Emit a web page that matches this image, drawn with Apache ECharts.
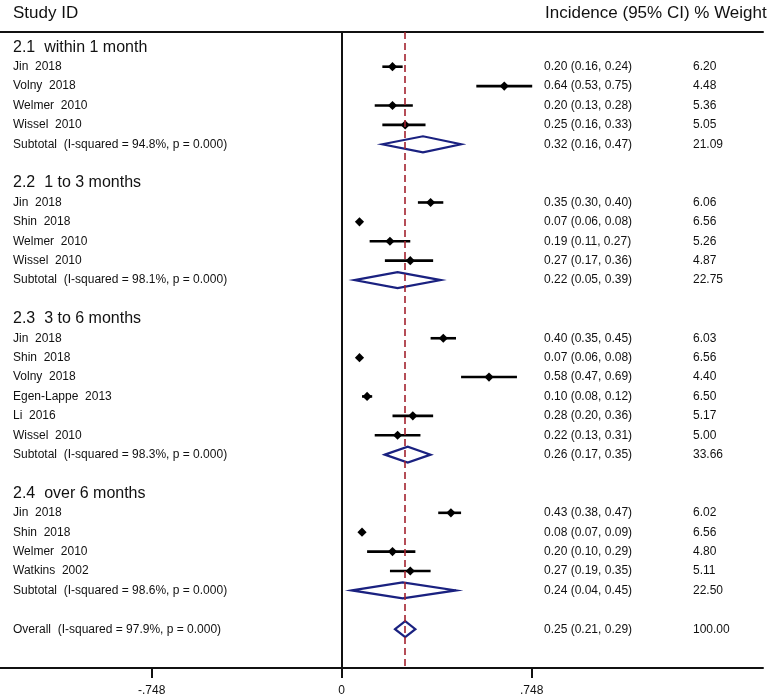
<!DOCTYPE html>
<html>
<head>
<meta charset="utf-8">
<script src="https://cdn.jsdelivr.net/npm/echarts@6/dist/echarts.min.js"></script>
<style>html,body{margin:0;padding:0;background:#fff;}#c{width:767px;height:696px;}</style>
</head>
<body>
<div id="c"></div>
<script>
// ---- data ----
const groupNames = ['2.1  within 1 month', '2.2  1 to 3 months', '2.3  3 to 6 months', '2.4  over 6 months'];
const studyNames = [
  ['Jin  2018', 'Volny  2018', 'Welmer  2010', 'Wissel  2010'],
  ['Jin  2018', 'Shin  2018', 'Welmer  2010', 'Wissel  2010'],
  ['Jin  2018', 'Shin  2018', 'Volny  2018', 'Egen-Lappe  2013', 'Li  2016', 'Wissel  2010'],
  ['Jin  2018', 'Shin  2018', 'Welmer  2010', 'Watkins  2002']
];
const studyEst = [[0.20, 0.64, 0.20, 0.25], [0.35, 0.07, 0.19, 0.27], [0.40, 0.07, 0.58, 0.10, 0.28, 0.22], [0.43, 0.08, 0.20, 0.27]];
const studyLo  = [[0.16, 0.53, 0.13, 0.16], [0.30, 0.06, 0.11, 0.17], [0.35, 0.06, 0.47, 0.08, 0.20, 0.13], [0.38, 0.07, 0.10, 0.19]];
const studyHi  = [[0.24, 0.75, 0.28, 0.33], [0.40, 0.08, 0.27, 0.36], [0.45, 0.08, 0.69, 0.12, 0.36, 0.31], [0.47, 0.09, 0.29, 0.35]];
const studyWeight = [[6.20, 4.48, 5.36, 5.05], [6.06, 6.56, 5.26, 4.87], [6.03, 6.56, 4.40, 6.50, 5.17, 5.00], [6.02, 6.56, 4.80, 5.11]];
const subtotalLabels = [
  'Subtotal  (I-squared = 94.8%, p = 0.000)',
  'Subtotal  (I-squared = 98.1%, p = 0.000)',
  'Subtotal  (I-squared = 98.3%, p = 0.000)',
  'Subtotal  (I-squared = 98.6%, p = 0.000)'
];
const subtotalEst = [0.32, 0.22, 0.26, 0.24];
const subtotalLo  = [0.16, 0.05, 0.17, 0.04];
const subtotalHi  = [0.47, 0.39, 0.35, 0.45];
const subtotalWeight = [21.09, 22.75, 33.66, 22.50];
const overallLabel = 'Overall  (I-squared = 97.9%, p = 0.000)';
const overallEst = 0.25, overallLo = 0.21, overallHi = 0.29, overallWeight = 100.00;
const xTickValues = [-0.748, 0, 0.748];
const xTickLabels = ['-.748', '0', '.748'];

// ---- build rows ----
const rows = [];
let r = 0;
groupNames.forEach((g, gi) => {
  rows.push({ r: r++, kind: 'group', label: g });
  studyNames[gi].forEach((n, si) => {
    rows.push({ r: r++, kind: 'study', label: n, est: studyEst[gi][si], lo: studyLo[gi][si], hi: studyHi[gi][si], w: studyWeight[gi][si] });
  });
  rows.push({ r: r++, kind: 'sub', label: subtotalLabels[gi], est: subtotalEst[gi], lo: subtotalLo[gi], hi: subtotalHi[gi], w: subtotalWeight[gi] });
  r++; // blank row
});
rows.push({ r: r++, kind: 'overall', label: overallLabel, est: overallEst, lo: overallLo, hi: overallHi, w: overallWeight });

const FONT = '"Liberation Sans", Arial, Helvetica, sans-serif';
const TXT = '#111';
const NAVY = '#1a2180';
const PX_PER_UNIT = 254.0;
const ZERO_X = 341.7;
const X_MIN = -ZERO_X / PX_PER_UNIT;
const X_MAX = (763 - ZERO_X) / PX_PER_UNIT;

const studyRows = rows.filter(d => d.kind === 'study');
const pooledRows = rows.filter(d => d.kind === 'sub' || d.kind === 'overall');
const fmt = v => v.toFixed(2);

const chart = echarts.init(document.getElementById('c'), null, { renderer: 'canvas' });
chart.setOption({
  animation: false,
  backgroundColor: '#fff',
  textStyle: { fontFamily: FONT },
  grid: { left: 0, right: 4, top: 32, bottom: 28, containLabel: false, outerBoundsMode: 'none' },
  xAxis: [
    {
      type: 'value', min: X_MIN, max: X_MAX, position: 'bottom',
      axisLine: { show: true, onZero: false, lineStyle: { color: '#111', width: 2 } },
      axisTick: { show: true, customValues: xTickValues, length: 10, lineStyle: { color: '#111', width: 2 } },
      axisLabel: {
        show: true, customValues: xTickValues, margin: 17, fontSize: 12, color: TXT, fontFamily: FONT,
        formatter: v => { const i = xTickValues.findIndex(t => Math.abs(t - v) < 1e-6); return i >= 0 ? xTickLabels[i] : ''; }
      },
      splitLine: { show: false }
    },
    {
      type: 'value', min: X_MIN, max: X_MAX, position: 'top',
      axisLine: { show: true, onZero: false, lineStyle: { color: '#111', width: 2 } },
      axisTick: { show: false }, axisLabel: { show: false }, splitLine: { show: false }
    }
  ],
  yAxis: { type: 'value', inverse: true, min: -0.789, max: 32.0, show: false, splitLine: { show: false } },
  graphic: [
    { type: 'text', x: 13, y: 13, style: { text: 'Study ID', fontSize: 17, fontFamily: FONT, fill: TXT, verticalAlign: 'middle' } },
    { type: 'text', x: 545, y: 13, style: { text: 'Incidence (95% CI) % Weight', fontSize: 17, fontFamily: FONT, fill: TXT, verticalAlign: 'middle' } }
  ],
  series: [
    {
      type: 'custom', name: 'refs', xAxisIndex: 0, data: [[0, 0]], encode: { x: 0, y: 1 },
      renderItem: () => ({ type: 'group', children: [] }),
      markLine: {
        silent: true, symbol: 'none', label: { show: false },
        data: [
          { xAxis: 0, lineStyle: { color: '#111', width: 2, type: 'solid' } },
          { xAxis: overallEst, lineStyle: { color: '#a3222f', width: 1.6, type: [7, 4] } }
        ]
      }
    },
    {
      type: 'custom', name: 'studies', xAxisIndex: 0, clip: false,
      data: studyRows.map(d => [d.r, d.est, d.lo, d.hi]),
      encode: { y: 0, x: [1, 2, 3] },
      renderItem: (params, api) => {
        const row = api.value(0);
        const p = api.coord([api.value(1), row]);
        const pl = api.coord([api.value(2), row]);
        const ph = api.coord([api.value(3), row]);
        const s = 4.6;
        return { type: 'group', children: [
          { type: 'line', shape: { x1: pl[0], y1: pl[1], x2: ph[0], y2: ph[1] }, style: { stroke: '#000', lineWidth: 2.6 } },
          { type: 'polygon', shape: { points: [[p[0], p[1] - s], [p[0] + s, p[1]], [p[0], p[1] + s], [p[0] - s, p[1]]] }, style: { fill: '#000' } }
        ] };
      }
    },
    {
      type: 'custom', name: 'pooled', xAxisIndex: 0, clip: false,
      data: pooledRows.map(d => [d.r, d.est, d.lo, d.hi]),
      encode: { y: 0, x: [1, 2, 3] },
      renderItem: (params, api) => {
        const row = api.value(0);
        const p = api.coord([api.value(1), row]);
        const pl = api.coord([api.value(2), row]);
        const ph = api.coord([api.value(3), row]);
        const h = 8;
        return { type: 'polygon', shape: { points: [pl, [p[0], p[1] - h], ph, [p[0], p[1] + h]] }, style: { fill: 'none', stroke: NAVY, lineWidth: 2.2, lineJoin: 'miter' } };
      }
    },
    {
      type: 'custom', name: 'text', xAxisIndex: 0, clip: false,
      data: rows.map(d => [d.r, 0]),
      encode: { y: 0, x: 1 },
      renderItem: (params, api) => {
        const d = rows[params.dataIndex];
        const y = api.coord([0, api.value(0)])[1];
        const kids = [{ type: 'text', x: 13, y: y, style: { text: d.label, fontSize: d.kind === 'group' ? 16 : 12, fontFamily: FONT, fill: TXT, verticalAlign: 'middle' } }];
        if (d.kind !== 'group') {
          kids.push({ type: 'text', x: 544, y: y, style: { text: fmt(d.est) + ' (' + fmt(d.lo) + ', ' + fmt(d.hi) + ')', fontSize: 12, fontFamily: FONT, fill: TXT, verticalAlign: 'middle' } });
          kids.push({ type: 'text', x: 693, y: y, style: { text: fmt(d.w), fontSize: 12, fontFamily: FONT, fill: TXT, verticalAlign: 'middle' } });
        }
        return { type: 'group', children: kids };
      }
    }
  ]
});
</script>
</body>
</html>
